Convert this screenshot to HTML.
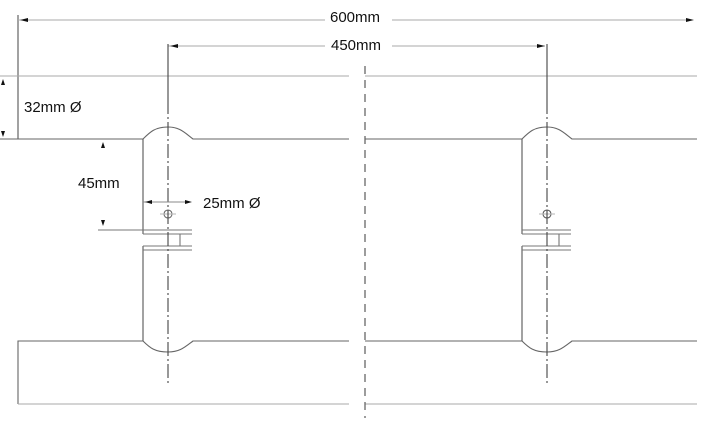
<!DOCTYPE html>
<html><head><style>
html,body{margin:0;padding:0;background:#fff;width:711px;height:422px;overflow:hidden}
svg{display:block}
text{font-family:"Liberation Sans",sans-serif;fill:#111;font-size:15px}
</style></head><body>
<svg width="711" height="422" viewBox="0 0 711 422" xmlns="http://www.w3.org/2000/svg">
<g stroke="#777" stroke-width="1.1" fill="none">
<line x1="18" y1="15" x2="18" y2="139" stroke="#555"/>
<line x1="18" y1="20" x2="325" y2="20" stroke="#aaa"/>
<line x1="392" y1="20" x2="692" y2="20" stroke="#aaa"/>
<line x1="168" y1="46" x2="325" y2="46" stroke="#aaa"/>
<line x1="392" y1="46" x2="545" y2="46" stroke="#aaa"/>
<line x1="0" y1="76" x2="349" y2="76" stroke="#aaa"/>
<line x1="365" y1="76" x2="697" y2="76" stroke="#aaa"/>
<path d="M0 139 H143 C150 132 155 127 168 127 C180 127 185 133 193 139 H349" stroke="#666"/>
<path d="M365 139 H522 C529 132 534 127 547 127 C559 127 564 133 572 139 H697" stroke="#666"/>
<path d="M18 404 V341 H143 C150 348 155 352 168 352 C180 352 185 347 193 341 H349" stroke="#666"/>
<path d="M365 341 H522 C529 348 534 352 547 352 C559 352 564 347 572 341 H697" stroke="#666"/>
<line x1="18" y1="404" x2="349" y2="404" stroke="#aaa"/>
<line x1="365" y1="404" x2="697" y2="404" stroke="#aaa"/>
<line x1="143" y1="139" x2="143" y2="234" stroke="#555"/>
<line x1="143" y1="246" x2="143" y2="341" stroke="#555"/>
<line x1="522" y1="139" x2="522" y2="234" stroke="#555"/>
<line x1="522" y1="246" x2="522" y2="341" stroke="#555"/>
<g stroke="#777">
<line x1="98" y1="230" x2="192" y2="230"/><line x1="143" y1="234" x2="192" y2="234"/>
<line x1="143" y1="246" x2="192" y2="246"/><line x1="143" y1="250" x2="192" y2="250"/>
<line x1="180" y1="234" x2="180" y2="246"/>
<line x1="522" y1="230" x2="571" y2="230"/><line x1="522" y1="234" x2="571" y2="234"/>
<line x1="522" y1="246" x2="571" y2="246"/><line x1="522" y1="250" x2="571" y2="250"/>
<line x1="559" y1="234" x2="559" y2="246"/>
</g>
<circle cx="168" cy="214" r="4" stroke="#666"/>
<circle cx="547" cy="214" r="4" stroke="#555"/>
<line x1="160" y1="214" x2="176" y2="214" stroke="#bbb"/>
<line x1="539" y1="214" x2="555" y2="214" stroke="#bbb"/>
<line x1="168" y1="44" x2="168" y2="100" stroke="#444"/>
<line x1="547" y1="44" x2="547" y2="100" stroke="#444"/>
<line x1="168" y1="100" x2="168" y2="386" stroke="#444" stroke-dasharray="14,3,2,3"/>
<line x1="547" y1="100" x2="547" y2="386" stroke="#444" stroke-dasharray="14,3,2,3"/>
<line x1="365" y1="66" x2="365" y2="418" stroke="#666" stroke-width="1.3" stroke-dasharray="8,6"/>
<line x1="143" y1="202" x2="190" y2="202" stroke="#888"/>
</g>
<g fill="#111">
<polygon points="20,20 28,18 28,22"/>
<polygon points="694,20 686,18 686,22"/>
<polygon points="170,46 178,44 178,48"/>
<polygon points="545,46 537,44 537,48"/>
<polygon points="3,79 1,85 5,85"/>
<polygon points="3,137 1,131 5,131"/>
<polygon points="103,142 101,148 105,148"/>
<polygon points="103,226 101,220 105,220"/>
<polygon points="145,202 152,200 152,204"/>
<polygon points="192,202 185,200 185,204"/>
</g>
<text x="330" y="22">600mm</text>
<text x="331" y="50">450mm</text>
<text x="24" y="112">32mm Ø</text>
<text x="78" y="188">45mm</text>
<text x="203" y="208">25mm Ø</text>
</svg>
</body></html>
